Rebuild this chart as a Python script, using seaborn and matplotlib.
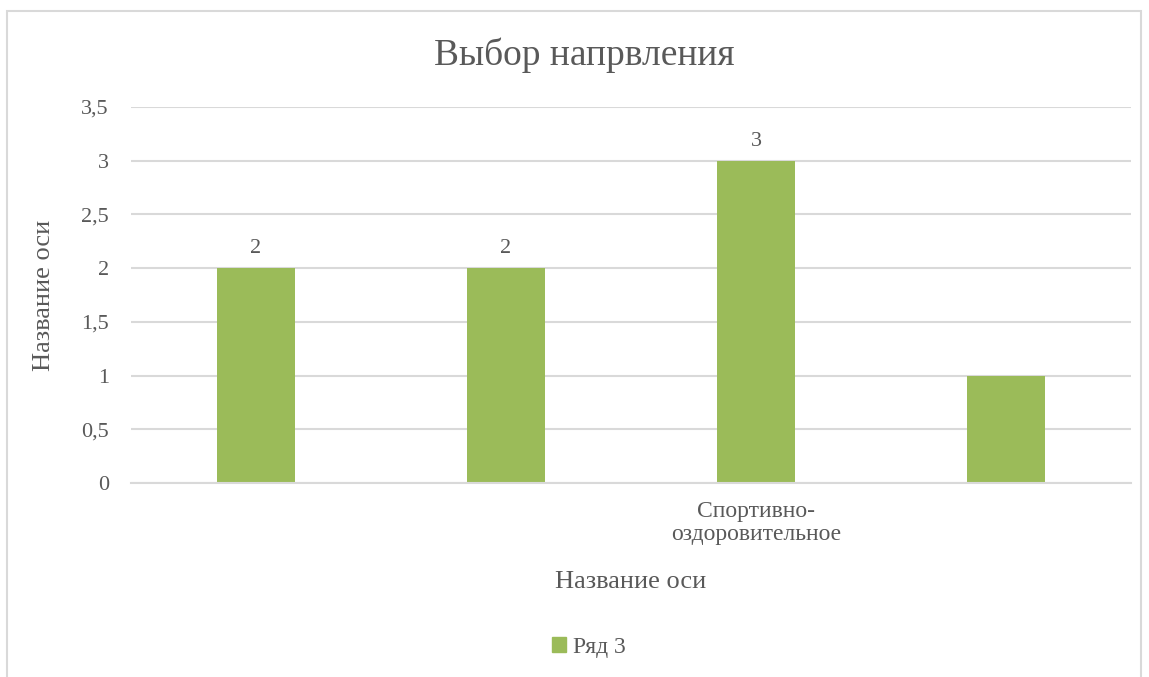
import pandas as pd
import matplotlib.pyplot as plt
import matplotlib.patches as mpatches
from matplotlib.ticker import FuncFormatter, MultipleLocator
import seaborn as sns

# ===== Data =====
categories = ["c1", "c2", "c3", "c4"]
tick_labels = ["", "", "Спортивно-\nоздоровительное", ""]
values = [2, 2, 3, 1]
bar_labels = ["2", "2", "3", ""]
series_name = "Ряд 3"

df = pd.DataFrame({"cat": categories, "val": values})

# ===== Style =====
sns.set_theme(style="white")
plt.rcParams["font.family"] = ["Liberation Serif", "DejaVu Serif"]
text_col = "#595959"
grid_col = "#d9d9d9"
bar_col = "#9bbb59"

fig = plt.figure(figsize=(11.49, 6.77), dpi=100)
ax = fig.add_axes([131 / 1149, 1 - 483 / 677, 1000 / 1149, 376 / 677])

sns.barplot(data=df, x="cat", y="val", color=bar_col, width=0.312,
            saturation=1, linewidth=0, ax=ax)

ax.set_ylim(0, 3.5)
ax.set_xlim(-0.5, len(categories) - 0.5)
ax.yaxis.set_major_locator(MultipleLocator(0.5))
ax.yaxis.set_major_formatter(FuncFormatter(lambda v, p: f"{v:g}".replace(".", ",")))
ax.grid(axis="y", color=grid_col, linewidth=1.5)
ax.set_axisbelow(True)
for s in ["top", "right", "left"]:
    ax.spines[s].set_visible(False)
ax.spines["bottom"].set_color(grid_col)
ax.spines["bottom"].set_linewidth(1.5)

ax.set_xticks(range(len(categories)))
ax.set_xticklabels(tick_labels, fontsize=17, color=text_col, linespacing=1.1)
ax.tick_params(axis="y", labelsize=16, labelcolor=text_col, length=0, pad=16)
ax.tick_params(axis="x", length=0, pad=13)

ax.bar_label(ax.containers[0], labels=bar_labels, fontsize=16, color=text_col, padding=7)

ax.set_xlabel("Название оси", fontsize=19, color=text_col, labelpad=19)
ax.set_ylabel("Название оси", fontsize=19, color=text_col, labelpad=19)
fig.text(584 / 1149, 1 - 55 / 677, "Выбор напрвления",
         fontsize=27, color=text_col, ha="center", va="center")

# legend at bottom
handle = mpatches.Patch(color=bar_col, label=series_name)
fig.legend(handles=[handle], loc="center", bbox_to_anchor=(589 / 1149, 1 - 647 / 677),
           frameon=False, fontsize=17, handlelength=0.6, handleheight=0.6,
           handletextpad=0.3, labelcolor=text_col)

# chart border
fig.patches.append(mpatches.Rectangle((7 / 1149, -0.01), 1134 / 1149, 1 - 11 / 677 + 0.01,
                                      transform=fig.transFigure, fill=False,
                                      edgecolor=grid_col, linewidth=1.5))

fig.savefig("out.png", dpi=100)
